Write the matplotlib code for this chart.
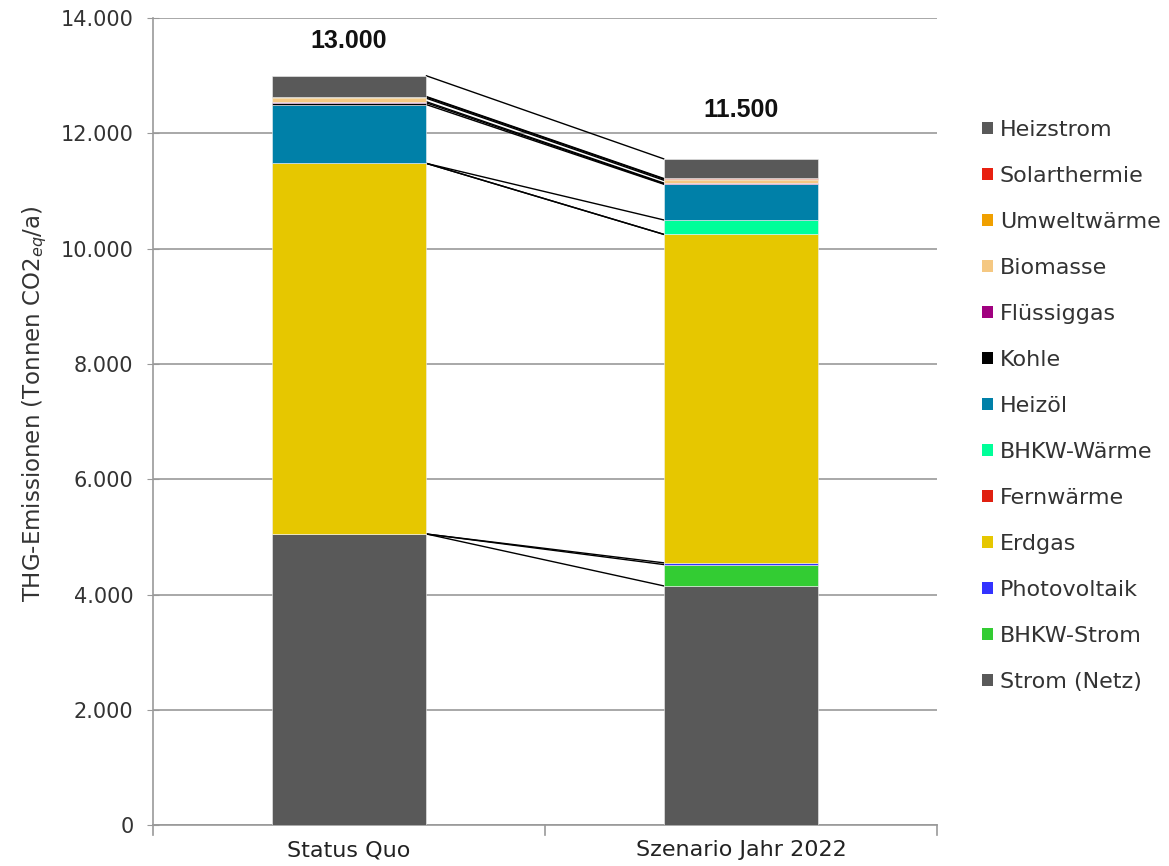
import numpy as np
import matplotlib
matplotlib.use("Agg")
import matplotlib.pyplot as plt
from matplotlib.patches import Patch

plt.rcParams['font.family'] = ['DejaVu Sans']
plt.rcParams['mathtext.fontset'] = 'dejavusans'

# Daten (Tonnen CO2eq/a), Reihenfolge von unten nach oben
kategorien = ["Status Quo", "Szenario Jahr 2022"]
quellen = ["Strom (Netz)", "BHKW-Strom", "Photovoltaik", "Erdgas", "Fernwärme",
           "BHKW-Wärme", "Heizöl", "Kohle", "Flüssiggas", "Biomasse",
           "Umweltwärme", "Solarthermie", "Heizstrom"]
status_quo = [5050, 0, 0, 6430, 0, 0, 1020, 30, 20, 60, 20, 10, 360]
szenario_2022 = [4150, 370, 30, 5700, 0, 250, 620, 10, 10, 50, 20, 10, 340]
summen_label = ["13.000", "11.500"]
farben = ["#595959", "#33CC33", "#3333FF", "#E6C700", "#E02010", "#00FF99",
          "#0080A8", "#000000", "#A0007F", "#F5C882", "#F0A000", "#E82010",
          "#595959"]

werte = np.array([status_quo, szenario_2022])  # (2, 13)
x = np.arange(len(kategorien))
breite = 0.395

fig = plt.figure(figsize=(11.69, 8.66), dpi=100)
ax = fig.add_axes([0.1309, 0.0473, 0.6707, 0.9317])

unten = np.zeros(len(kategorien))
for i, name in enumerate(quellen):
    ax.bar(x, werte[:, i], breite, bottom=unten, color=farben[i],
           edgecolor="#f0f0f0", linewidth=0.4, zorder=3)
    unten = unten + werte[:, i]

# Serienlinien zwischen den Balken
kum = np.cumsum(werte, axis=1)
for i in range(len(quellen)):
    ax.plot([x[0] + breite / 2, x[1] - breite / 2], [kum[0, i], kum[1, i]],
            color="black", linewidth=1.0, zorder=2)

# Summen über den Balken
for xi, summe, label, off in zip(x, kum[:, -1], summen_label, [25, 35]):
    ax.annotate(label, (xi, summe), xytext=(0, off), textcoords="offset points",
                ha="center", va="center", fontsize=18, fontweight="bold",
                family=["Liberation Sans", "DejaVu Sans"], color="#111111")

ax.set_xlim(-0.5, 1.5)
ax.set_ylim(0, 14000)
yt = np.arange(0, 14001, 2000)
ax.set_yticks(yt)
ax.set_yticklabels([f"{int(v):,}".replace(",", ".") for v in yt],
                   fontsize=15, color="#333333")
ax.set_xticks(x)
ax.set_xticklabels(kategorien, fontsize=16, color="#222222")
ax.tick_params(axis="x", length=0, pad=11)
ax.tick_params(axis="y", direction="inout", length=8, color="#999999", pad=10)
for xb in [-0.5, 0.5, 1.5]:
    ax.plot([xb, xb], [0, -170], color="#999999", linewidth=1.2, clip_on=False)

ax.grid(axis="y", color="#999999", linewidth=1.2, zorder=0)
for s in ["top", "right"]:
    ax.spines[s].set_visible(False)
for s in ["left", "bottom"]:
    ax.spines[s].set_color("#999999")
    ax.spines[s].set_linewidth(1.2)

ax.set_ylabel("THG-Emissionen (Tonnen CO2$_{eq}$/a)", fontsize=16.5, color="#333333")
ax.yaxis.set_label_coords(-0.133, 0.522)

handles = [Patch(facecolor=farben[i], label=quellen[i]) for i in range(len(quellen))][::-1]
fig.legend(handles=handles, loc="upper left", bbox_to_anchor=(0.840, 0.8614),
           frameon=False, fontsize=16, handlelength=0.5, handleheight=0.5,
           handletextpad=0.3, labelspacing=1.17, borderpad=0, borderaxespad=0,
           labelcolor="#333333")

fig.savefig("out.png", dpi=100)
